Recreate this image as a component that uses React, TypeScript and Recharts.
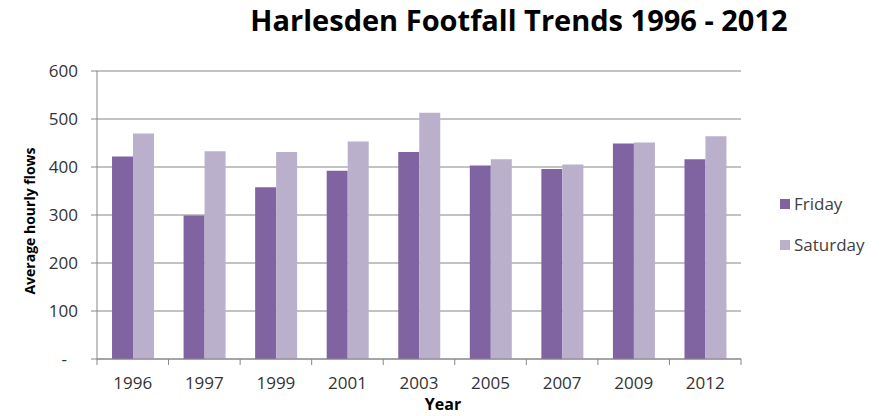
import { BarChart, Bar, XAxis, YAxis, CartesianGrid } from 'recharts';

const years = ['1996', '1997', '1999', '2001', '2003', '2005', '2007', '2009', '2012'];
const friday = [422, 299, 358, 392, 431, 403, 396, 449, 416];
const saturday = [470, 433, 431, 453, 513, 416, 405, 451, 464];
const yTicks = [0, 100, 200, 300, 400, 500, 600];

const data = years.map((year, i) => ({ year, friday: friday[i], saturday: saturday[i] }));

const FONT = '"Open Sans", Lato, sans-serif';
const TEXT = '#333333';
const AXIS = '#868686';
const FRIDAY_COLOR = '#8064A2';
const SATURDAY_COLOR = '#BAB0CB';

// plot area in page pixels
const PLOT_LEFT = 97;
const PLOT_RIGHT = 741;
const PLOT_TOP = 71;
const PLOT_BOTTOM = 359;
const BAND = (PLOT_RIGHT - PLOT_LEFT) / years.length;

// Excel style: tick marks sit between categories, labels in the middle
// eslint-disable-next-line @typescript-eslint/no-explicit-any
function YearTick({ x, payload, index }: any) {
  const left = x - BAND / 2;
  return (
    <g>
      <line x1={left} x2={left} y1={PLOT_BOTTOM} y2={PLOT_BOTTOM + 6} stroke={AXIS} />
      {index === years.length - 1 && (
        <line x1={x + BAND / 2} x2={x + BAND / 2} y1={PLOT_BOTTOM} y2={PLOT_BOTTOM + 6} stroke={AXIS} />
      )}
      <text x={x} y={PLOT_BOTTOM + 30} textAnchor="middle" fill={TEXT} fontSize={17} fontFamily={FONT}>
        {payload.value}
      </text>
    </g>
  );
}

// accounting format: zero shows as a dash with some padding on the right
// eslint-disable-next-line @typescript-eslint/no-explicit-any
function FlowTick({ x, y, payload }: any) {
  const zero = payload.value === 0;
  return (
    <text
      x={zero ? x - 11 : x}
      y={y}
      dy="0.35em"
      textAnchor="end"
      fill={TEXT}
      fontSize={17}
      fontFamily={FONT}
    >
      {zero ? '-' : payload.value}
    </text>
  );
}

function LegendBox() {
  const items = [
    { label: 'Friday', color: FRIDAY_COLOR, top: 193 },
    { label: 'Saturday', color: SATURDAY_COLOR, top: 234 },
  ];
  return (
    <>
      {items.map((item) => (
        <div
          key={item.label}
          style={{
            position: 'absolute',
            left: 780,
            top: item.top,
            display: 'flex',
            alignItems: 'center',
            fontFamily: FONT,
            fontSize: 17,
            color: '#404040',
            lineHeight: '22px',
          }}
        >
          <span style={{ width: 10, height: 10, background: item.color, marginRight: 4, display: 'inline-block' }} />
          {item.label}
        </div>
      ))}
    </>
  );
}

export default function App() {
  return (
    <div style={{ position: 'absolute', left: 0, top: 0, width: 883, height: 416, background: '#fff' }}>
      <div
        style={{
          position: 'absolute',
          left: 0,
          width: 883,
          top: 0,
          paddingLeft: 155,
          boxSizing: 'border-box',
          textAlign: 'center',
          fontFamily: FONT,
          fontWeight: 700,
          fontSize: 29,
          color: '#000',
          whiteSpace: 'nowrap',
        }}
      >
        Harlesden Footfall Trends 1996 - 2012
      </div>
      <BarChart
        width={883}
        height={416}
        data={data}
        margin={{ top: PLOT_TOP, right: 883 - PLOT_RIGHT, bottom: 0, left: 0 }}
        barCategoryGap="21%"
        barGap={0}
        style={{ position: 'absolute', left: 0, top: 0 }}
      >
        <CartesianGrid vertical={false} stroke={AXIS} strokeWidth={1} />
        <XAxis
          dataKey="year"
          height={416 - PLOT_BOTTOM}
          tickLine={false}
          axisLine={{ stroke: AXIS }}
          interval={0}
          tick={<YearTick />}
          label={{
            value: 'Year',
            position: 'insideBottom',
            offset: 6,
            dx: 24,
            fill: '#000',
            fontSize: 16,
            fontWeight: 700,
            fontFamily: FONT,
          }}
        />
        <YAxis
          width={PLOT_LEFT}
          domain={[0, 600]}
          ticks={yTicks}
          interval={0}
          tickSize={6}
          tickMargin={13}
          tickLine={{ stroke: AXIS }}
          axisLine={{ stroke: AXIS }}
          tick={<FlowTick />}
          label={{
            value: 'Average hourly flows',
            angle: -90,
            position: 'insideLeft',
            offset: 30,
            dy: 6,
            style: { textAnchor: 'middle' },
            fill: '#000',
            fontSize: 14,
            fontWeight: 700,
            fontFamily: FONT,
          }}
        />
        <Bar dataKey="friday" name="Friday" fill={FRIDAY_COLOR} isAnimationActive={false} />
        <Bar dataKey="saturday" name="Saturday" fill={SATURDAY_COLOR} isAnimationActive={false} />
      </BarChart>
      <LegendBox />
    </div>
  );
}
